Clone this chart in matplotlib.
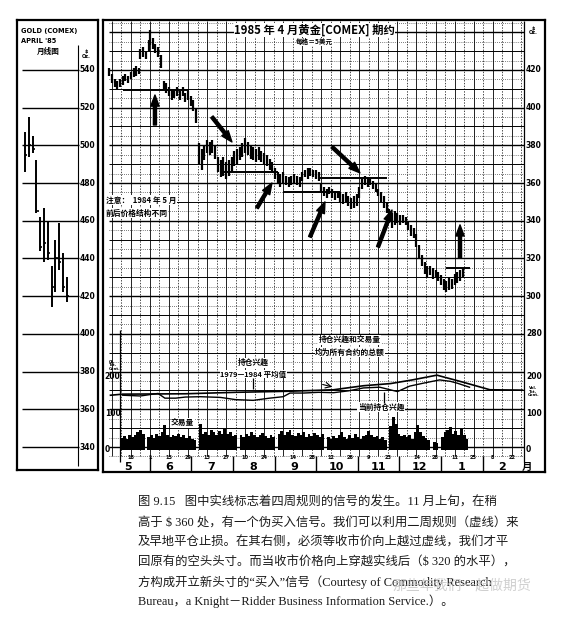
import numpy as np
import matplotlib.pyplot as plt

plt.rcParams['font.family'] = ['Noto Sans CJK SC', 'DejaVu Sans']

# ---- daily bars, April '85 gold (day 0 = 1 May 1984)
bar_day = [1, 3, 5, 7, 9, 11, 13, 15, 17, 19, 21, 23, 24, 26, 28, 30, 31, 33, 35, 37, 39,
           41, 43, 45, 47, 49, 51, 53, 55, 57, 59, 61, 63, 65, 67, 69, 71, 73, 75, 77, 79,
           81, 83, 85, 87, 89, 91, 93, 95, 97, 99, 101, 103, 105, 107, 109, 111, 113, 115,
           117, 119, 121, 123, 125, 127, 129, 131, 133, 135, 137, 139, 141, 143, 145, 147,
           149, 151, 153, 155, 157, 159, 161, 163, 165, 167, 169, 171, 173, 175, 177, 179,
           181, 183, 185, 187, 189, 191, 193, 195, 197, 199, 201, 203, 205, 207, 209, 211,
           213, 215, 217, 219, 221, 223, 225, 227, 229, 231, 233, 235, 237, 239, 241, 243,
           245, 247, 249, 251, 253, 255, 257, 259, 261]
bar_low = [417, 413, 411, 410, 411, 412, 414, 413, 415, 416, 417, 418, 426, 427, 426, 430, 433, 431, 429, 427, 421,
           410, 408, 406, 404, 405, 406, 404, 406, 403, 404, 401, 398, 392, 370, 367, 372, 376, 375, 376, 373,
           366, 363, 364, 362, 364, 366, 369, 370, 372, 374, 376, 375, 373, 372, 371, 372, 371, 370,
           369, 367, 366, 362, 360, 358, 360, 359, 358, 359, 360, 359, 358, 361, 363, 362,
           364, 363, 362, 361, 355, 353, 352, 354, 352, 351, 352, 350, 349, 350, 348, 346,
           347, 348, 352, 357, 359, 358, 359, 357, 355, 353, 350, 347, 344, 339, 336, 338,
           339, 338, 339, 338, 335, 332, 331, 326, 320, 316, 312, 310, 311, 309, 310, 308,
           306, 303, 302, 303, 304, 306, 307, 308, 310]
bar_high = [421, 418, 415, 414, 415, 417, 418, 417, 419, 421, 422, 421, 431, 432, 430, 436, 441, 437, 434, 432, 428,
            414, 413, 411, 410, 410, 411, 409, 411, 408, 409, 406, 404, 400, 381, 378, 380, 383, 382, 383, 380,
            374, 372, 374, 371, 372, 374, 377, 378, 379, 381, 384, 382, 380, 379, 378, 379, 377, 376,
            375, 373, 371, 368, 366, 365, 366, 364, 363, 364, 365, 364, 363, 366, 367, 368,
            368, 367, 367, 366, 360, 358, 357, 358, 357, 356, 356, 355, 354, 355, 353, 352,
            353, 354, 358, 362, 364, 363, 362, 361, 360, 357, 355, 353, 350, 346, 344, 345,
            344, 343, 343, 342, 340, 338, 336, 333, 327, 322, 318, 316, 316, 315, 314, 313,
            311, 309, 308, 310, 309, 312, 313, 314, 315]

# ---- total volume and open interest (thousand contracts)
vol_day = list(range(10, 266, 2))
vol = [32, 38, 30, 42, 35, 40, 48, 55, 45, 0, 36, 40, 33, 45, 38, 50, 68, 42, 36, 40,
       38, 44, 35, 40, 33, 38, 30, 28, 0, 72, 45, 50, 42, 55, 48, 40, 52, 45, 58, 44,
       50, 38, 42, 0, 40, 36, 45, 38, 50, 42, 35, 40, 47, 38, 33, 40, 36, 0, 45, 52,
       40, 48, 55, 42, 38, 46, 40, 50, 35, 43, 38, 47, 41, 36, 44, 0, 35, 30, 38, 32,
       42, 50, 36, 30, 40, 33, 45, 36, 30, 38, 42, 52, 40, 35, 38, 30, 36, 28, 0, 65,
       90, 72, 45, 38, 42, 35, 40, 30, 48, 68, 50, 38, 33, 28, 0, 22, 20, 0, 35, 48,
       55, 63, 45, 52, 40, 58, 42, 30]
oi_day = [11, 24, 37, 42, 50, 57, 68, 83, 94, 107, 119, 129, 134, 144, 155, 166, 177,
          188, 200, 213, 222, 232, 244, 252, 257, 266]
oi_cur = [150, 148, 155, 142, 142, 145, 146, 144, 138, 136, 142, 146, 156, 156, 158, 157, 162,
          170, 172, 160, 175, 183, 192, 188, 183, 172]
avg_day = [2, 11, 57, 94, 134, 166, 188, 208, 224, 242, 261, 281, 305]
oi_avg = [150, 153, 154, 158, 161, 165, 176, 182, 192, 205, 186, 165, 164]

# ---- monthly chart (left panel)
mon_idx = list(range(12))
mon_low = [486, 494, 496, 464, 444, 438, 439, 414, 422, 434, 422, 417]
mon_high = [507, 515, 505, 492, 462, 467, 460, 436, 450, 459, 443, 430]
mon_close = [495, 500, 498, 465, 446, 448, 443, 425, 440, 438, 425, 420]

# ---- axis labels
month_start = [31, 61, 92, 123, 153, 184, 214, 245, 276]
month_mid = [15, 45, 76, 107, 137, 168, 199, 229, 260, 290]
month_lab = ['5', '6', '7', '8', '9', '10', '11', '12', '1', '2']
date_day = [17, 31, 45, 59, 73, 87, 101, 115, 136, 150, 164, 178, 192, 206, 227, 241, 255, 269, 283, 297]
date_lab = ['18', '1', '15', '29', '13', '27', '10', '24', '14', '28', '12', '26', '9', '23', '14', '28',
            '11', '25', '8', '22']
price_ticks = [420, 400, 380, 360, 340, 320, 300, 280]
oi_ticks = [200, 100, 0]
mon_ticks = [540, 520, 500, 480, 460, 440, 420, 400, 380, 360, 340]

# signal lines (solid) and arrows
sig_lines = [(409.4, 11, 60), (366, 85, 125), (355, 129, 171), (362.7, 156, 205), (315, 249, 266)]
arrows = [((34.7, 390.8), (34.7, 406.7)), ((76.6, 395.1), (91.3, 381.8)),
          ((109.7, 346.8), (120.7, 360)), ((148.7, 331.4), (159.7, 350)),
          ((164.9, 379.2), (185.4, 365.4)), ((198.7, 326.1), (209, 345.7)),
          ((259, 320.3), (259, 337.8))]

fig = plt.figure(figsize=(5.71, 6.18), dpi=100)
CJK = ['Noto Sans CJK SC', 'DejaVu Sans']
SERIF = ['Liberation Serif', 'Noto Sans CJK SC']

# ================= left monthly panel
axL = fig.add_axes([17/571, 1-470/618, 81/571, 450/618])
axL.set_xlim(-2.1, 19.2)
axL.set_ylim(327.8, 566.5)
axL.set_xticks([]); axL.set_yticks([])
for s in axL.spines.values():
    s.set_linewidth(1.6)
axL.hlines(mon_ticks, -0.8, 14.2, color='k', lw=1.0)
axL.vlines(13.9, 330, 553, color='k', lw=0.8)
for t in mon_ticks:
    axL.text(14.4, t, str(t), fontsize=5.5, fontweight='bold', va='center', ha='left', family='DejaVu Sans')
axL.vlines(mon_idx, mon_low, mon_high, color='k', lw=1.4)
axL.hlines(mon_close, np.array(mon_idx), np.array(mon_idx) + 0.6, color='k', lw=1.2)
axL.text(0.05, 0.975, 'GOLD (COMEX)', transform=axL.transAxes, fontsize=4.8, fontweight='bold',
         family='DejaVu Sans', va='center')
axL.text(0.05, 0.953, "APRIL '85", transform=axL.transAxes, fontsize=4.8, fontweight='bold',
         family='DejaVu Sans', va='center')
axL.text(0.25, 0.931, '月线图', transform=axL.transAxes, fontsize=5.5, fontweight='bold', va='center')
axL.text(0.86, 0.925, '$\nOz.', transform=axL.transAxes, fontsize=3.5, fontweight='bold',
         family='DejaVu Sans', va='center', ha='center', linespacing=0.9)

# ================= main panel
rect = [103/571, 1-472/618, 442/571, 452/618]
ax = fig.add_axes(rect)
ax2 = ax.twinx()
ax.set_zorder(ax2.get_zorder() + 1)
ax.patch.set_visible(False)
ax.set_xlim(-3.5, 321.5)
ax.set_ylim(206.7, 446.5)
ax2.set_ylim(-60.3, 1178)
for a in (ax, ax2):
    a.set_xticks([]); a.set_yticks([])
for s in ax.spines.values():
    s.set_linewidth(1.6)
for s in ax2.spines.values():
    s.set_visible(False)

# grid
for p in range(215, 446, 5):
    if p % 20 == 0:
        ax.hlines(p, 1, 306, color='k', lw=1.0, zorder=1)
    elif p % 10 == 0:
        ax.hlines(p, 1, 306, color='k', lw=0.7, zorder=1)
    else:
        ax.hlines(p, 1, 306, color='k', lw=0.5, ls=(0, (1, 2)), zorder=1)
fridays = np.arange(3, 305, 7)
for i, d in enumerate(fridays):
    ax.vlines(d, 215, 446, color='k', lw=0.6 if i % 2 == 0 else 0.5,
              ls='-' if i % 2 == 0 else (0, (2, 2)), zorder=1)
ax.vlines(306, 212, 446, color='k', lw=0.9, zorder=1)
ax.vlines(9, 212, 282, color='k', lw=0.9, zorder=1)

# price bars
ax.vlines(bar_day, bar_low, bar_high, color='k', lw=1.6, zorder=3)
for p, d0, d1 in sig_lines:
    ax.hlines(p, d0, d1, color='k', lw=1.4, zorder=3)
for tail, head in arrows:
    ax.annotate('', xy=head, xytext=tail,
                arrowprops=dict(facecolor='k', edgecolor='k', width=2.2, headwidth=6,
                                headlength=8, shrink=0), zorder=4)

# volume and open interest
ax2.bar(vol_day, vol, width=2.1, color='k', lw=0)
ax2.plot(oi_day, oi_cur, color='k', lw=1.0)
ax2.plot(avg_day, oi_avg, color='k', lw=1.2)

# right / left scale labels
tb = dict(facecolor='white', edgecolor='none', pad=0.3)
for p in price_ticks:
    ax.text(307.5, p, str(p), fontsize=5.5, fontweight='bold', family='DejaVu Sans',
            va='center', ha='left', bbox=tb, zorder=5)
for v in oi_ticks:
    ax2.text(307.5, v, str(v), fontsize=5.5, fontweight='bold', family='DejaVu Sans',
             va='center', ha='left', bbox=tb, zorder=5)
    ax2.text(-2.2, v, str(v), fontsize=5.5, fontweight='bold', family='DejaVu Sans',
             va='center', ha='left', bbox=tb, zorder=5)
ax.text(313, 441, '$\nOz.', fontsize=3.5, fontweight='bold', family='DejaVu Sans',
        ha='center', va='center', linespacing=0.9, bbox=tb, zorder=5)
ax2.text(0.5, 232, 'Oi.\nTot.\nCont.', fontsize=2.8, fontweight='bold', family='DejaVu Sans',
         ha='left', va='center', linespacing=0.9)
ax2.text(313, 160, 'Vol.\nTot.\nCont.', fontsize=2.8, fontweight='bold', family='DejaVu Sans',
         ha='center', va='center', linespacing=0.9)

# bottom dates and months
xt = ax.get_xaxis_transform()
for d, lab in zip(date_day, date_lab):
    ax.text(d, 0.031, lab, transform=xt, fontsize=3.6, ha='center', va='center',
            family='DejaVu Sans', fontweight='bold')
for d, lab in zip(month_mid, month_lab):
    ax.text(d, 0.012, lab, transform=xt, fontsize=8, ha='center', va='center',
            family='DejaVu Sans', fontweight='bold')
ax.text(308, 0.012, '月', transform=xt, fontsize=7.5, ha='center', va='center', fontweight='bold')
ax.vlines(month_start, 0.0, 0.035, transform=xt, color='k', lw=1.0)

# annotations
ax.text(152, 441.3, '1985 年 4 月黄金[COMEX] 期约', fontsize=8.2, fontweight='bold',
        ha='center', va='center', family=CJK, bbox=tb, zorder=5)
ax.text(152, 435, '每格＝5美元', fontsize=4.8, fontweight='bold', ha='center', va='center',
        family=CJK, bbox=tb, zorder=5)
ax.text(-1.3, 351, '注意：  1984 年 5 月', fontsize=5.6, fontweight='bold', ha='left', va='center',
        family=CJK, bbox=tb, zorder=5)
ax.text(-1.3, 344.1, '前后价格结构不同', fontsize=5.6, fontweight='bold', ha='left', va='center',
        family=CJK, bbox=tb, zorder=5)
ax.text(178, 276.8, '持仓兴趣和交易量', fontsize=5.6, fontweight='bold', ha='center', va='center',
        family=CJK, bbox=tb, zorder=5)
ax.text(178, 270.4, '均为所有合约的总额', fontsize=5.6, fontweight='bold', ha='center', va='center',
        family=CJK, bbox=tb, zorder=5)
ax.text(107, 264.6, '持仓兴趣', fontsize=5.6, fontweight='bold', ha='center', va='center',
        family=CJK, bbox=tb, zorder=5)
ax.text(107, 258.7, '1979—1984 平均值', fontsize=5.4, fontweight='bold', ha='center', va='center',
        family=CJK, bbox=tb, zorder=5)
ax.vlines(107, 250.5, 256.5, color='k', lw=0.9, zorder=5)
ax.text(201, 241.2, '当前持仓兴趣', fontsize=5.6, fontweight='bold', ha='center', va='center',
        family=CJK, bbox=tb, zorder=5)
ax.vlines(203, 243.5, 249, color='k', lw=0.9, zorder=5)
ax.text(55, 232.7, '交易量', fontsize=5.6, fontweight='bold', ha='center', va='center',
        family=CJK, bbox=tb, zorder=5)
ax.annotate('', xy=(167, 251.5), xytext=(156, 253.5),
            arrowprops=dict(arrowstyle='->', color='k', lw=0.8), zorder=5)

# ================= caption
cap = ['图 9.15   图中实线标志着四周规则的信号的发生。11 月上旬，在稍',
       '高于 $ 360 处，有一个伪买入信号。我们可以利用二周规则（虚线）来',
       '及早地平仓止损。在其右侧，必须等收市价向上越过虚线，我们才平',
       '回原有的空头头寸。而当收市价格向上穿越实线后（$ 320 的水平），',
       '方构成开立新头寸的“买入”信号（Courtesy of Commodity Research',
       'Bureau，a Knight－Ridder Business Information Service.）。']
cap_y = [503, 523, 543, 563, 582, 601]
for line, y in zip(cap, cap_y):
    fig.text(138/571, 1 - y/618, line, fontsize=8.9, color='#1a1a1a', ha='left', va='center',
             family=SERIF)
fig.text(392/571, 1 - 586/618, '那些年我们一起做期货', fontsize=10, color='#c4c4c4', alpha=0.8,
         ha='left', va='center', family=CJK)

fig.savefig('out.png', dpi=100, facecolor='white')
